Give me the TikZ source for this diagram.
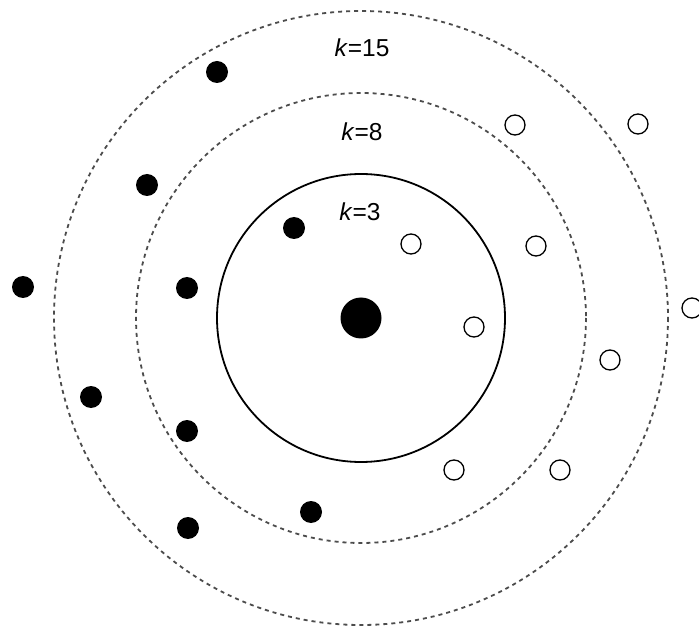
\documentclass[tikz,border=0pt]{standalone}
\usepackage{fontspec}
\setmainfont{Liberation Sans}
\begin{document}
\begin{tikzpicture}[x=1pt,y=-1pt,
  ring/.style={draw=black!70, line width=1.8pt, dash pattern=on 4pt off 4pt},
  solidring/.style={draw=black, line width=1.8pt},
  fdot/.style={circle, fill=black, inner sep=0pt, minimum size=22pt},
  odot/.style={circle, draw=black, line width=1.3pt, fill=white, inner sep=0pt, minimum size=20pt},
  lab/.style={font=\fontsize{24.5}{26}\selectfont, inner sep=0pt}]
\useasboundingbox (0,0) rectangle (699,628);
\fill[white] (0,0) rectangle (699,628);
\coordinate (c) at (361,318);
\draw[ring] (c) circle[radius=307];
\draw[ring] (c) circle[radius=225];
\draw[solidring] (c) circle[radius=144];
\node[circle, fill=black, inner sep=0pt, minimum size=41pt] (q) at (c) {};
\node[lab] (l15) at (362,48) {\textit{k}=15};
\node[lab] (l8) at (362,132) {\textit{k}=8};
\node[lab] (l3) at (360,212) {\textit{k}=3};
\node[fdot] (f1) at (217,72) {};
\node[fdot] (f2) at (147,185) {};
\node[fdot] (f3) at (294,228) {};
\node[fdot] (f4) at (23,287) {};
\node[fdot] (f5) at (187,288) {};
\node[fdot] (f6) at (91,397) {};
\node[fdot] (f7) at (187,431) {};
\node[fdot] (f8) at (311,512) {};
\node[fdot] (f9) at (188,528) {};
\node[odot] (o1) at (515,125) {};
\node[odot] (o2) at (638,124) {};
\node[odot] (o3) at (411,244) {};
\node[odot] (o4) at (536,246) {};
\node[odot] (o5) at (474,327) {};
\node[odot] (o6) at (692,308) {};
\node[odot] (o7) at (610,360) {};
\node[odot] (o8) at (454,470) {};
\node[odot] (o9) at (560,470) {};
\end{tikzpicture}
\end{document}
